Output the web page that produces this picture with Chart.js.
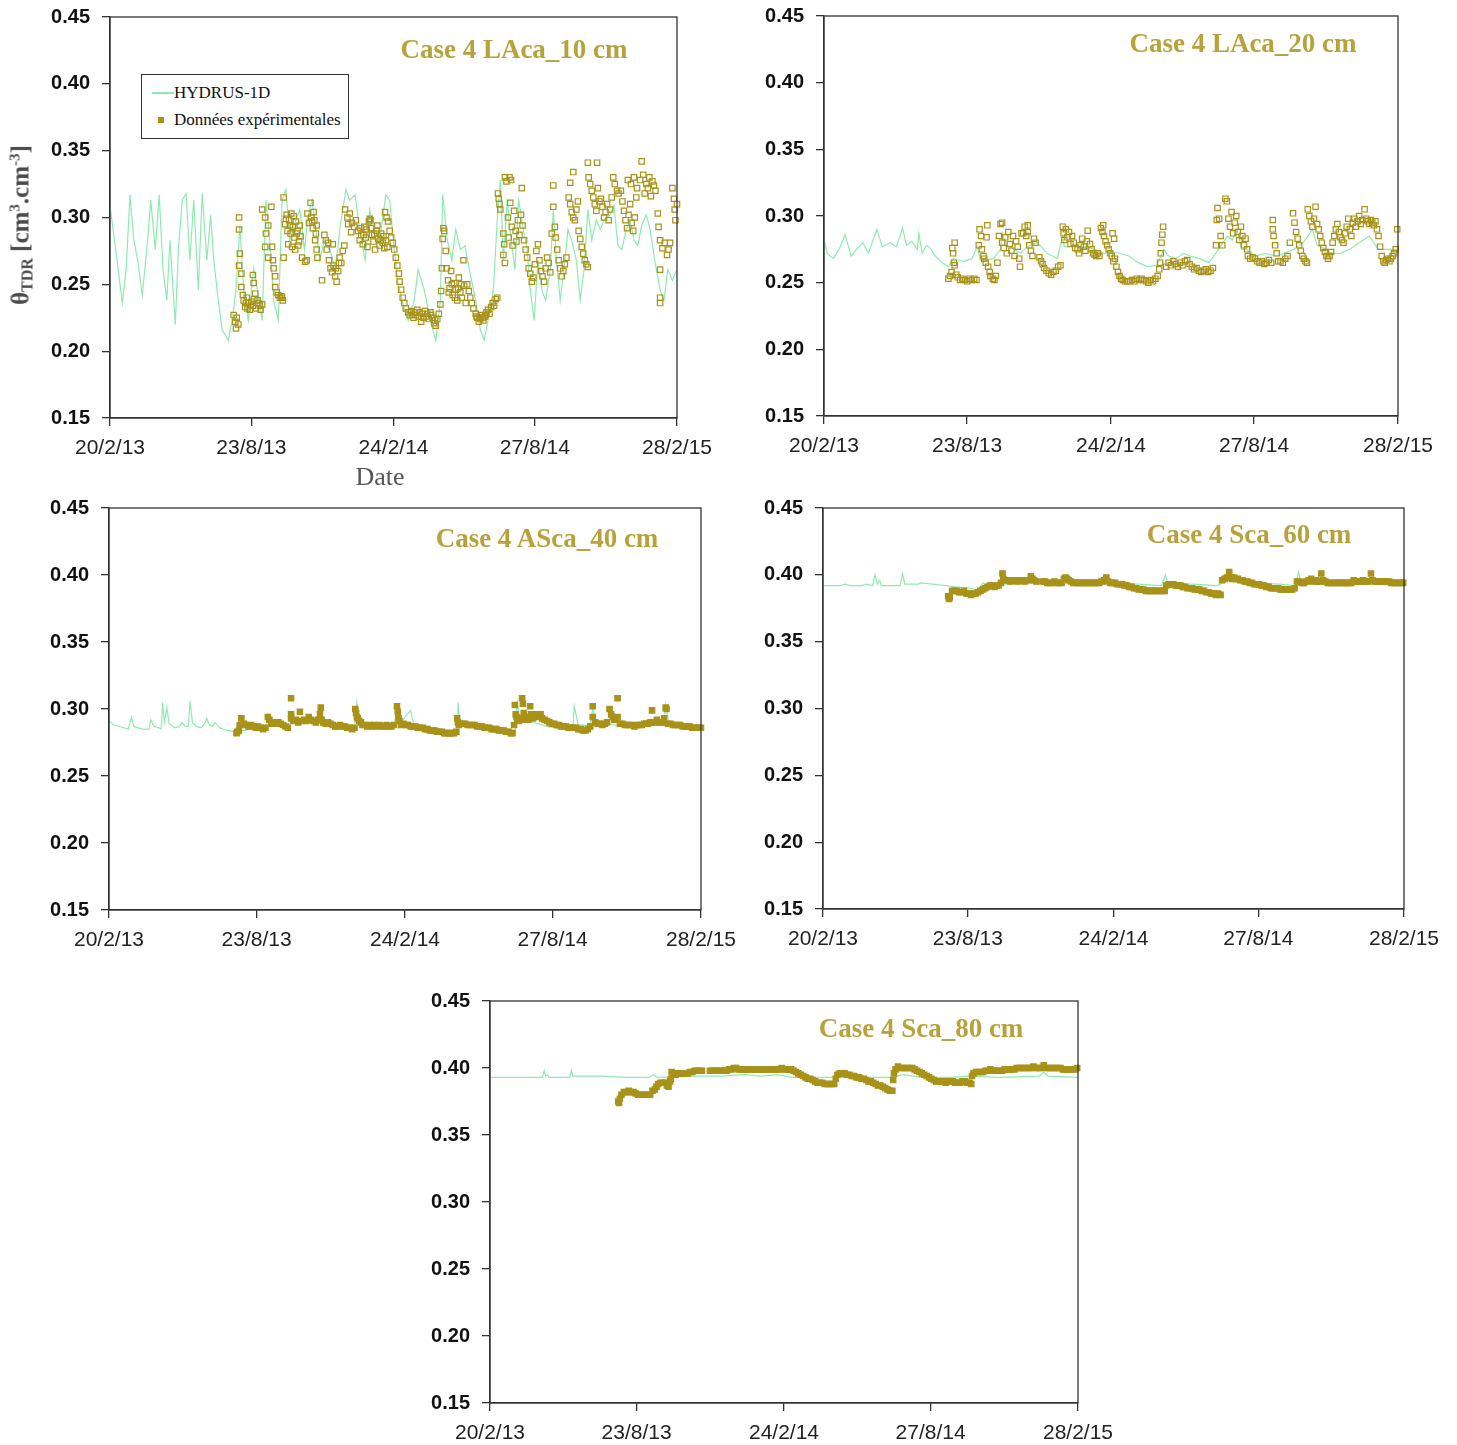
<!DOCTYPE html>
<html><head><meta charset="utf-8">
<script src="https://cdn.jsdelivr.net/npm/chart.js@4.4.0/dist/chart.umd.min.js"></script>
<style>
html,body{margin:0;padding:0;background:#fff}
body{width:1457px;height:1445px;position:relative;overflow:hidden}
canvas{position:absolute}
.ttl{position:absolute;font-family:"Liberation Serif","Times New Roman",serif;font-weight:bold;font-size:27px;line-height:27px;color:#B7A23C;white-space:nowrap;transform:translate(-50%,-50%)}
#ytitle{position:absolute;left:21px;top:225px;transform:translate(-50%,-50%) rotate(-90deg);font-family:"Liberation Serif","Times New Roman",serif;font-weight:bold;font-size:25px;line-height:28px;color:#4a4a4a;white-space:nowrap}
#ytitle sub{font-size:16px;vertical-align:-4px}
#ytitle sup{font-size:15px;vertical-align:9px}
#xtitle{position:absolute;left:380px;top:477px;transform:translate(-50%,-50%);font-family:"Liberation Serif","Times New Roman",serif;font-size:26px;line-height:26px;color:#555;white-space:nowrap}
#legend{position:absolute;left:141px;top:74px;width:208px;height:65px;box-sizing:border-box;border:1.5px solid #333;background:#fff;font-family:"Liberation Serif","Times New Roman",serif;font-size:17px;color:#111}
#legend .row{position:absolute;left:32px;line-height:20px;white-space:nowrap}
</style></head><body>
<canvas id="c1" width="737" height="503" style="left:0px;top:-8px"></canvas>
<canvas id="c2" width="737" height="504" style="left:720px;top:-9px"></canvas>
<canvas id="c3" width="760" height="482" style="left:0px;top:483px"></canvas>
<canvas id="c4" width="717" height="482" style="left:740px;top:483px"></canvas>
<canvas id="c5" width="740" height="469" style="left:400px;top:976px"></canvas>

<div class="ttl" style="left:514px;top:49px">Case 4 LAca_10 cm</div>
<div class="ttl" style="left:1243px;top:43px">Case 4 LAca_20 cm</div>
<div class="ttl" style="left:547px;top:538px">Case 4 ASca_40 cm</div>
<div class="ttl" style="left:1249px;top:534px">Case 4 Sca_60 cm</div>
<div class="ttl" style="left:921px;top:1028px">Case 4 Sca_80 cm</div>
<div id="ytitle">θ<sub>TDR</sub> [cm<sup>3</sup>.cm<sup>-3</sup>]</div>
<div id="xtitle">Date</div>
<div id="legend">
  <div style="position:absolute;left:10px;top:17px;width:22px;height:1.5px;background:#8EEBB0"></div>
  <div class="row" style="top:8px">HYDRUS-1D</div>
  <div style="position:absolute;left:16px;top:42px;width:6px;height:6px;background:#A89218"></div>
  <div class="row" style="top:35px">Données expérimentales</div>
</div>

<script>
// ---- axis definitions ----
const tickDays = [0, 184, 369, 553, 738];          // days since 20/2/2013
const tickLabels = ['20/2/13', '23/8/13', '24/2/14', '27/8/14', '28/2/15'];
const thetaTicks = [0.15, 0.20, 0.25, 0.30, 0.35, 0.40, 0.45];

// ---- Case 4 LAca_10 cm ----
const hydrus10 = [[0,.309],[4,.291],[10,.264],[16,.236],[21,.261],[26,.317],[31,.283],[36,.268],[42,.242],[49,.283],[53,.313],[59,.276],[64,.317],[69,.261],[74,.238],[78,.283],[85,.220],[89,.276],[94,.313],[99,.318],[104,.268],[109,.313],[115,.246],[120,.318],[126,.268],[131,.302],[135,.268],[141,.238],[146,.216],[154,.208],[159,.223],[164,.246],[169,.294],[174,.246],[180,.223],[187,.262],[193,.242],[198,.223],[203,.313],[208,.283],[213,.238],[219,.223],[224,.313],[229,.321],[234,.283],[242,.298],[247,.306],[253,.276],[258,.302],[263,.313],[268,.291],[273,.268],[279,.283],[286,.276],[294,.261],[299,.291],[307,.321],[312,.313],[319,.317],[325,.291],[332,.268],[338,.306],[344,.291],[351,.283],[359,.317],[364,.313],[370,.276],[375,.250],[380,.238],[388,.223],[396,.238],[401,.261],[409,.246],[417,.223],[424,.208],[430,.238],[433,.317],[439,.283],[445,.268],[450,.291],[456,.276],[462,.279],[469,.257],[476,.238],[482,.216],[487,.208],[492,.223],[499,.246],[504,.298],[508,.328],[512,.268],[517,.313],[522,.283],[527,.261],[532,.313],[538,.291],[543,.276],[547,.246],[552,.223],[557,.268],[562,.246],[567,.238],[573,.261],[577,.306],[581,.268],[586,.238],[591,.261],[596,.291],[601,.283],[607,.268],[612,.238],[617,.261],[622,.306],[627,.283],[633,.298],[638,.291],[643,.298],[651,.302],[656,.309],[661,.279],[666,.276],[672,.291],[677,.298],[682,.283],[687,.279],[692,.294],[698,.302],[703,.291],[709,.268],[716,.246],[721,.238],[726,.261],[732,.253],[738,.261]];
const obs10 = [[161,.227],[163,.222],[164,.217],[165,.225],[167,.220],[168,.300],[168,.291],[169,.273],[168,.264],[171,.258],[171,.248],[173,.242],[174,.238],[176,.233],[178,.240],[180,.236],[182,.231],[184,.237],[186,.234],[188,.239],[190,.232],[193,.236],[196,.231],[198,.235],[177,.236],[179,.232],[183,.234],[192,.238],[195,.234],[186,.257],[187,.251],[189,.243],[198,.306],[210,.308],[202,.300],[206,.294],[203,.288],[202,.278],[211,.278],[206,.270],[212,.268],[213,.262],[215,.256],[215,.248],[217,.244],[221,.240],[225,.238],[223,.241],[219,.242],[224,.240],[226,.315],[226,.270],[228,.295],[230,.302],[231,.290],[233,.298],[235,.288],[236,.303],[238,.293],[240,.285],[242,.297],[244,.290],[246,.282],[232,.280],[237,.278],[241,.276],[245,.279],[229,.299],[234,.294],[239,.301],[243,.288],[247,.294],[248,.286],[250,.270],[254,.267],[256,.268],[257,.303],[259,.296],[261,.311],[262,.300],[264,.292],[266,.298],[268,.288],[269,.294],[267,.283],[269,.276],[270,.270],[263,.297],[265,.304],[276,.253],[279,.287],[282,.276],[285,.268],[287,.262],[289,.259],[290,.280],[291,.264],[293,.256],[295,.252],[297,.260],[299,.270],[301,.266],[303,.275],[305,.279],[281,.283],[284,.281],[294,.262],[298,.266],[306,.306],[309,.300],[312,.303],[315,.296],[318,.293],[320,.298],[310,.295],[314,.289],[323,.290],[325,.283],[327,.287],[329,.280],[331,.293],[333,.285],[335,.278],[337,.297],[338,.299],[339,.298],[341,.287],[343,.282],[345,.276],[347,.290],[349,.284],[351,.279],[353,.288],[355,.281],[357,.277],[359,.283],[361,.278],[326,.292],[330,.287],[334,.291],[340,.292],[344,.288],[348,.294],[352,.283],[356,.286],[358,.304],[360,.300],[362,.297],[364,.290],[366,.285],[368,.281],[370,.276],[372,.270],[374,.264],[376,.258],[377,.252],[379,.246],[381,.240],[383,.236],[385,.232],[388,.229],[390,.227],[392,.230],[395,.225],[397,.229],[400,.231],[402,.226],[405,.222],[407,.228],[410,.230],[412,.226],[415,.224],[417,.229],[420,.225],[422,.221],[424,.219],[426,.224],[428,.228],[393,.227],[398,.227],[403,.229],[408,.225],[413,.228],[418,.227],[423,.223],[430,.235],[431,.245],[432,.262],[433,.284],[434,.292],[435,.290],[437,.275],[438,.262],[440,.253],[442,.247],[444,.260],[446,.242],[448,.251],[450,.246],[452,.238],[454,.255],[456,.244],[458,.240],[460,.268],[461,.249],[463,.236],[441,.244],[445,.250],[449,.240],[453,.247],[457,.250],[465,.250],[467,.245],[469,.240],[471,.236],[473,.232],[476,.228],[478,.225],[480,.222],[482,.224],[484,.227],[486,.223],[488,.226],[490,.229],[492,.231],[494,.228],[477,.226],[481,.225],[485,.225],[489,.227],[496,.233],[498,.236],[500,.234],[502,.239],[504,.240],[505,.318],[506,.314],[507,.310],[508,.306],[514,.330],[520,.330],[516,.327],[522,.328],[512,.288],[513,.280],[512,.272],[514,.266],[518,.300],[519,.285],[521,.311],[523,.293],[524,.279],[526,.305],[528,.290],[529,.282],[531,.298],[533,.287],[535,.302],[537,.294],[539,.283],[541,.276],[536,.322],[543,.270],[545,.262],[547,.258],[549,.252],[551,.255],[553,.265],[555,.275],[557,.280],[559,.268],[561,.260],[563,.256],[565,.252],[567,.262],[569,.270],[571,.266],[573,.259],[575,.288],[577,.324],[577,.308],[579,.293],[580,.285],[582,.276],[584,.268],[586,.262],[588,.256],[590,.260],[592,.265],[594,.270],[599,.326],[603,.334],[597,.315],[599,.310],[601,.304],[603,.300],[605,.298],[607,.306],[609,.312],[610,.290],[612,.284],[614,.278],[616,.273],[618,.268],[620,.265],[622,.263],[622,.341],[634,.341],[623,.330],[625,.325],[627,.320],[629,.315],[631,.310],[633,.305],[635,.322],[637,.312],[639,.314],[641,.308],[643,.300],[645,.304],[647,.310],[649,.298],[651,.306],[653,.315],[655,.330],[657,.325],[660,.320],[662,.318],[665,.320],[667,.312],[669,.305],[671,.298],[673,.292],[675,.302],[677,.310],[679,.296],[681,.290],[683,.300],[685,.315],[674,.328],[678,.325],[682,.330],[686,.322],[690,.328],[694,.332],[698,.325],[702,.330],[706,.327],[710,.320],[692,.342],[696,.318],[700,.322],[704,.316],[708,.324],[713,.303],[714,.293],[716,.283],[719,.277],[722,.281],[725,.272],[727,.276],[729,.281],[716,.261],[716,.240],[716,.236],[732,.322],[734,.314],[735,.306],[736,.298],[738,.310]];

// ---- Case 4 LAca_20 cm ----
const hydrus20 = [[0,.283],[4,.272],[12,.268],[21,.277],[27,.286],[35,.270],[42,.275],[50,.280],[57,.272],[68,.290],[75,.277],[85,.280],[93,.277],[101,.291],[106,.278],[113,.281],[120,.275],[122,.287],[126,.272],[132,.278],[138,.275],[143,.270],[152,.265],[160,.262],[166,.268],[171,.267],[180,.266],[190,.268],[197,.277],[201,.267],[218,.268],[227,.275],[229,.287],[235,.278],[253,.272],[261,.277],[274,.280],[287,.272],[300,.268],[307,.285],[309,.277],[322,.277],[339,.277],[347,.275],[360,.272],[373,.273],[392,.270],[404,.265],[416,.262],[428,.263],[437,.275],[443,.270],[453,.268],[462,.272],[471,.270],[483,.268],[495,.265],[507,.275],[513,.280],[519,.285],[525,.282],[531,.290],[537,.275],[543,.275],[555,.270],[567,.272],[580,.270],[592,.272],[604,.275],[616,.280],[628,.290],[634,.278],[646,.275],[652,.272],[664,.272],[676,.275],[688,.280],[701,.285],[713,.275],[725,.275],[738,.275]];
const obs20 = [[160,.253],[162,.255],[164,.258],[165,.276],[166,.272],[167,.265],[168,.280],[168,.263],[170,.256],[172,.254],[175,.252],[178,.253],[181,.252],[184,.251],[187,.253],[190,.252],[193,.253],[196,.252],[199,.278],[200,.290],[202,.285],[203,.275],[205,.270],[206,.268],[208,.265],[209,.284],[210,.293],[211,.262],[213,.258],[214,.255],[217,.253],[219,.252],[221,.255],[223,.265],[225,.285],[227,.294],[229,.295],[229,.280],[231,.276],[233,.284],[235,.272],[237,.288],[239,.279],[241,.274],[243,.285],[245,.270],[247,.281],[249,.277],[251,.268],[252,.262],[254,.287],[256,.287],[258,.292],[260,.285],[262,.293],[262,.288],[264,.278],[266,.274],[268,.270],[270,.283],[272,.280],[277,.269],[279,.266],[281,.264],[283,.261],[286,.259],[289,.257],[292,.256],[295,.258],[298,.259],[301,.262],[304,.263],[307,.292],[308,.287],[309,.282],[311,.290],[313,.284],[315,.288],[317,.279],[319,.285],[321,.280],[323,.276],[326,.275],[328,.272],[330,.278],[332,.283],[334,.277],[336,.274],[338,.281],[339,.289],[342,.279],[344,.275],[346,.272],[348,.271],[350,.270],[352,.272],[354,.270],[356,.291],[358,.288],[359,.293],[360,.285],[362,.281],[364,.278],[366,.275],[368,.272],[370,.270],[372,.266],[371,.287],[373,.283],[374,.268],[376,.262],[378,.258],[380,.255],[382,.253],[384,.252],[387,.251],[390,.251],[393,.251],[396,.252],[399,.251],[402,.253],[405,.252],[408,.253],[411,.252],[414,.251],[417,.250],[420,.252],[423,.251],[426,.253],[429,.255],[431,.260],[432,.265],[433,.272],[434,.280],[435,.286],[436,.292],[440,.262],[443,.265],[446,.263],[449,.266],[452,.264],[455,.262],[458,.265],[461,.263],[464,.266],[467,.267],[470,.264],[473,.262],[476,.260],[479,.261],[482,.259],[485,.258],[488,.259],[491,.260],[494,.258],[497,.259],[500,.261],[504,.278],[505,.297],[506,.306],[508,.298],[510,.285],[512,.278],[516,.313],[518,.311],[520,.298],[522,.292],[524,.303],[526,.287],[528,.295],[530,.300],[532,.288],[534,.282],[536,.292],[538,.285],[540,.278],[542,.283],[544,.275],[545,.270],[548,.268],[551,.269],[554,.268],[557,.266],[560,.265],[563,.266],[566,.264],[569,.265],[572,.267],[575,.265],[577,.297],[577,.290],[578,.285],[580,.278],[582,.272],[584,.266],[587,.266],[590,.265],[593,.268],[596,.270],[599,.280],[603,.302],[605,.295],[607,.288],[609,.283],[611,.278],[613,.274],[615,.270],[617,.268],[619,.266],[621,.265],[622,.305],[624,.300],[626,.296],[628,.292],[630,.298],[632,.307],[634,.294],[636,.290],[638,.285],[640,.280],[642,.276],[644,.273],[646,.270],[648,.268],[650,.270],[652,.273],[654,.280],[656,.285],[658,.290],[660,.294],[662,.288],[664,.284],[666,.282],[668,.280],[670,.287],[672,.292],[674,.298],[676,.290],[678,.285],[680,.295],[682,.298],[684,.292],[686,.296],[688,.300],[690,.294],[692,.297],[695,.305],[697,.298],[699,.296],[701,.294],[703,.297],[705,.295],[707,.293],[709,.296],[711,.290],[713,.285],[715,.277],[717,.270],[719,.266],[721,.265],[723,.267],[725,.268],[727,.266],[729,.268],[731,.270],[733,.272],[735,.275],[737,.290]];

// ---- Case 4 ASca_40 cm ----
const hydrus40 = [[0,.291],[6,.288],[18,.286],[24,.285],[28,.294],[31,.287],[41,.285],[50,.285],[52,.292],[56,.287],[62,.286],[65,.285],[67,.305],[69,.290],[72,.301],[75,.289],[82,.286],[88,.287],[91,.290],[95,.287],[99,.287],[101,.306],[104,.290],[109,.287],[115,.286],[119,.289],[122,.293],[125,.288],[129,.287],[132,.290],[135,.288],[138,.286],[147,.284],[159,.283],[165,.284],[170,.284],[180,.286],[190,.287],[195,.285],[198,.296],[202,.288],[215,.287],[225,.289],[230,.290],[240,.290],[250,.291],[260,.290],[270,.288],[280,.287],[290,.286],[300,.286],[306,.287],[309,.305],[312,.292],[320,.288],[330,.287],[340,.287],[355,.287],[360,.303],[364,.290],[376,.299],[380,.288],[390,.287],[400,.286],[410,.285],[420,.283],[430,.282],[434,.283],[435,.305],[437,.290],[445,.288],[460,.287],[470,.286],[480,.285],[490,.284],[500,.283],[506,.282],[509,.305],[512,.292],[521,.296],[525,.291],[535,.289],[545,.287],[555,.286],[565,.285],[578,.284],[580,.302],[585,.288],[600,.288],[603,.300],[607,.290],[620,.289],[640,.287],[660,.287],[680,.288],[692,.288],[694,.303],[698,.290],[710,.288],[725,.287],[738,.286]];
const obs40 = [[159,.282],[160,.283],[162,.284],[163,.288],[165,.293],[168,.289],[171,.288],[174,.287],[177,.288],[180,.287],[183,.286],[186,.287],[189,.286],[192,.285],[195,.286],[198,.294],[200,.292],[202,.289],[205,.290],[208,.289],[211,.290],[214,.289],[217,.288],[220,.287],[223,.286],[227,.308],[227,.296],[227,.293],[230,.291],[233,.292],[236,.290],[238,.298],[240,.291],[243,.292],[246,.291],[249,.294],[252,.292],[255,.291],[258,.290],[261,.292],[263,.296],[264,.301],[265,.292],[267,.290],[270,.289],[273,.290],[276,.289],[279,.288],[282,.287],[285,.287],[288,.288],[291,.287],[294,.287],[297,.286],[300,.286],[303,.285],[306,.286],[307,.300],[308,.297],[309,.294],[310,.293],[312,.291],[314,.290],[316,.288],[319,.288],[322,.287],[325,.288],[328,.287],[331,.288],[334,.287],[337,.288],[340,.287],[343,.287],[346,.288],[349,.287],[352,.287],[355,.288],[359,.302],[360,.298],[361,.293],[362,.291],[364,.288],[367,.289],[370,.288],[373,.288],[376,.287],[379,.287],[382,.287],[385,.286],[388,.286],[391,.286],[394,.285],[397,.285],[400,.284],[403,.284],[406,.284],[409,.283],[412,.283],[415,.283],[418,.282],[421,.282],[424,.282],[427,.282],[430,.282],[433,.283],[434,.293],[435,.290],[436,.288],[438,.289],[441,.289],[444,.289],[447,.288],[450,.288],[453,.288],[456,.288],[459,.287],[462,.287],[465,.287],[468,.286],[471,.286],[474,.286],[477,.285],[480,.285],[483,.285],[486,.284],[489,.284],[492,.284],[495,.283],[498,.283],[501,.282],[503,.282],[505,.288],[506,.303],[507,.296],[508,.294],[509,.292],[511,.291],[513,.293],[515,.308],[516,.304],[517,.297],[519,.292],[521,.294],[523,.292],[525,.302],[526,.296],[528,.293],[530,.294],[532,.296],[534,.295],[536,.294],[538,.296],[540,.293],[543,.292],[546,.291],[549,.290],[552,.289],[555,.289],[558,.288],[561,.288],[564,.287],[567,.287],[570,.287],[573,.286],[576,.286],[579,.286],[582,.286],[585,.285],[588,.285],[591,.284],[594,.284],[597,.285],[600,.287],[603,.302],[603,.294],[606,.290],[609,.289],[612,.289],[615,.288],[618,.289],[621,.290],[624,.300],[626,.296],[628,.294],[630,.292],[632,.293],[634,.294],[634,.308],[637,.289],[640,.289],[643,.288],[646,.288],[649,.288],[652,.288],[655,.287],[658,.288],[661,.288],[664,.288],[667,.289],[670,.289],[672,.289],[675,.290],[677,.299],[680,.290],[683,.292],[686,.290],[689,.290],[692,.293],[694,.301],[695,.300],[697,.289],[700,.289],[703,.288],[706,.288],[709,.288],[712,.288],[715,.287],[718,.287],[721,.287],[724,.287],[727,.286],[730,.286],[733,.286],[736,.286],[738,.286]];

// ---- Case 4 Sca_60 cm ----
const hydrus60 = [[0,.392],[22,.392],[28,.393],[34,.392],[51,.392],[54,.393],[63,.392],[66,.400],[69,.393],[72,.396],[74,.392],[98,.392],[101,.401],[104,.393],[121,.393],[124,.394],[156,.392],[168,.391],[185,.390],[197,.389],[203,.394],[208,.391],[226,.393],[260,.394],[300,.394],[350,.394],[400,.393],[430,.392],[435,.400],[438,.393],[470,.393],[500,.392],[505,.393],[507,.396],[540,.394],[580,.393],[600,.392],[604,.402],[607,.394],[650,.393],[700,.393],[738,.392]];
const obs60 = [[159,.384],[160,.382],[161,.383],[164,.388],[167,.388],[170,.388],[173,.387],[176,.387],[179,.388],[182,.386],[185,.386],[188,.385],[191,.386],[194,.386],[197,.387],[200,.388],[203,.389],[206,.390],[209,.391],[212,.392],[215,.392],[218,.391],[220,.392],[223,.392],[226,.394],[228,.401],[229,.397],[232,.396],[235,.396],[238,.395],[241,.396],[244,.396],[247,.395],[250,.396],[253,.396],[256,.395],[261,.396],[264,.399],[266,.397],[268,.396],[271,.395],[279,.395],[282,.395],[285,.394],[288,.394],[291,.394],[294,.395],[297,.394],[300,.394],[303,.394],[306,.397],[308,.398],[310,.397],[312,.396],[315,.395],[318,.394],[321,.394],[324,.394],[327,.394],[330,.394],[333,.394],[336,.394],[339,.394],[342,.394],[345,.394],[348,.394],[351,.394],[354,.395],[357,.396],[360,.398],[362,.395],[365,.394],[368,.394],[371,.394],[374,.393],[377,.393],[380,.393],[383,.392],[386,.392],[389,.391],[392,.391],[395,.390],[398,.390],[401,.389],[404,.389],[407,.389],[410,.388],[413,.388],[416,.388],[419,.388],[422,.388],[425,.388],[428,.388],[431,.388],[434,.388],[436,.392],[439,.393],[442,.393],[445,.393],[448,.392],[451,.392],[454,.392],[457,.391],[460,.391],[463,.390],[466,.390],[469,.390],[472,.389],[475,.389],[478,.389],[481,.388],[484,.388],[487,.387],[490,.387],[493,.386],[496,.386],[499,.385],[502,.386],[505,.385],[507,.396],[510,.397],[513,.398],[516,.402],[518,.398],[520,.397],[522,.398],[524,.397],[527,.397],[530,.396],[533,.396],[536,.395],[539,.395],[542,.394],[545,.394],[548,.393],[551,.393],[554,.393],[557,.392],[560,.392],[563,.391],[566,.391],[569,.390],[572,.390],[575,.390],[578,.390],[581,.389],[584,.389],[587,.389],[590,.389],[593,.389],[596,.389],[599,.390],[602,.395],[605,.395],[608,.394],[611,.394],[614,.395],[617,.396],[620,.397],[622,.395],[626,.396],[628,.395],[631,.395],[633,.401],[635,.396],[638,.395],[641,.394],[644,.394],[647,.394],[650,.394],[653,.394],[656,.394],[659,.394],[662,.394],[665,.394],[668,.394],[671,.394],[674,.396],[677,.395],[680,.395],[683,.395],[686,.396],[689,.395],[692,.395],[696,.401],[698,.396],[701,.395],[704,.395],[707,.395],[710,.395],[713,.395],[716,.395],[719,.395],[722,.394],[725,.394],[728,.394],[731,.394],[734,.394],[737,.394]];

// ---- Case 4 Sca_80 cm ----
const hydrus80 = [[0,.393],[30,.393],[50,.393],[66,.393],[68,.398],[70,.394],[72,.395],[74,.393],[100,.393],[102,.398],[104,.394],[140,.394],[170,.393],[200,.393],[205,.395],[210,.393],[260,.394],[290,.394],[320,.395],[340,.394],[360,.395],[380,.393],[420,.393],[440,.393],[460,.393],[500,.393],[520,.395],[540,.393],[580,.393],[600,.394],[640,.393],[690,.394],[695,.397],[700,.394],[738,.393]];
const obs80 = [[161,.375],[162,.374],[163,.377],[165,.380],[168,.382],[171,.382],[174,.383],[177,.382],[180,.382],[183,.381],[186,.380],[189,.380],[192,.380],[195,.380],[198,.380],[201,.380],[204,.383],[207,.384],[209,.386],[211,.388],[214,.389],[217,.389],[220,.389],[222,.387],[224,.386],[226,.390],[227,.392],[228,.397],[230,.395],[233,.395],[236,.396],[239,.396],[242,.396],[245,.396],[248,.396],[251,.397],[254,.397],[257,.398],[260,.398],[263,.398],[266,.398],[276,.398],[279,.398],[282,.398],[285,.398],[288,.398],[291,.398],[294,.398],[297,.398],[300,.399],[303,.399],[306,.400],[309,.400],[312,.399],[315,.399],[318,.399],[321,.399],[324,.399],[327,.399],[330,.399],[333,.399],[336,.399],[339,.399],[342,.399],[345,.399],[348,.399],[351,.399],[354,.399],[357,.399],[360,.399],[363,.399],[366,.400],[369,.399],[372,.399],[375,.399],[378,.399],[381,.398],[384,.397],[387,.396],[390,.395],[393,.394],[396,.393],[399,.392],[402,.392],[405,.391],[408,.390],[411,.389],[414,.389],[417,.389],[420,.388],[423,.388],[426,.388],[429,.388],[432,.388],[434,.392],[436,.395],[439,.396],[442,.396],[445,.396],[448,.395],[451,.395],[454,.394],[457,.394],[460,.393],[463,.393],[466,.392],[469,.392],[472,.391],[475,.390],[478,.390],[481,.389],[484,.388],[487,.387],[490,.387],[493,.386],[496,.385],[499,.384],[502,.383],[505,.383],[506,.391],[507,.396],[509,.399],[512,.401],[515,.400],[518,.400],[521,.400],[524,.400],[527,.400],[530,.400],[533,.399],[536,.398],[539,.397],[542,.396],[545,.395],[548,.394],[551,.393],[554,.392],[557,.391],[560,.390],[563,.390],[566,.390],[569,.390],[572,.389],[575,.390],[578,.390],[581,.390],[584,.389],[587,.389],[590,.389],[593,.390],[596,.390],[599,.389],[602,.389],[604,.388],[605,.394],[607,.396],[610,.397],[613,.397],[616,.397],[619,.397],[622,.398],[625,.398],[628,.399],[631,.398],[634,.398],[637,.398],[640,.398],[643,.398],[646,.399],[649,.399],[652,.399],[655,.399],[658,.399],[661,.400],[664,.400],[667,.400],[670,.400],[673,.400],[676,.400],[679,.400],[682,.401],[685,.400],[688,.400],[691,.400],[695,.402],[698,.400],[701,.400],[704,.400],[707,.400],[710,.400],[713,.400],[716,.400],[719,.399],[722,.399],[725,.399],[728,.399],[731,.399],[734,.399],[737,.400]];

// ---- styling ----
const OLIVE = '#A89218';
const GREEN = '#8EEBB0';
const AXIS = '#333';
const SANS = '"Liberation Sans", Arial, sans-serif';

const framePlugin = {
  id: 'frame',
  afterDraw(chart) {
    const { ctx, chartArea: a } = chart;
    ctx.save();
    ctx.strokeStyle = AXIS;
    ctx.lineWidth = 1.3;
    ctx.strokeRect(a.left, a.top, a.right - a.left, a.bottom - a.top);
    ctx.restore();
  }
};

function makeChart(id, box, area, sim, obs, filled) {
  const el = document.getElementById(id);
  return new Chart(el, {
    type: 'scatter',
    data: {
      datasets: [
        { label: 'Données expérimentales', data: obs, pointStyle: 'rect', pointRadius: 3.8,
          borderWidth: 1.2, borderColor: OLIVE, backgroundColor: filled ? OLIVE : 'rgba(255,255,255,0)',
          showLine: false, order: 0, clip: false },
        { label: 'HYDRUS-1D', type: 'line', data: sim, borderColor: GREEN, borderWidth: 1.2,
          pointRadius: 0, tension: 0, fill: false, order: 1 }
      ]
    },
    options: {
      responsive: false, animation: false, devicePixelRatio: 1,
      events: [],
      layout: { padding: { top: area.t - box.y, right: box.x + box.w - area.r, left: 0, bottom: 0 } },
      plugins: { legend: { display: false }, tooltip: { enabled: false }, title: { display: false } },
      scales: {
        x: {
          type: 'linear', min: 0, max: 738,
          afterFit(s) { s.height = box.y + box.h - area.b; },
          afterBuildTicks(s) { s.ticks = tickDays.map(v => ({ value: v })); },
          ticks: { callback: v => { const i = tickDays.indexOf(v); return i >= 0 ? tickLabels[i] : ''; },
                   font: { family: SANS, size: 21 }, color: '#222', maxRotation: 0, minRotation: 0, autoSkip: false, padding: 10 },
          grid: { drawOnChartArea: false, drawTicks: true, tickLength: 8, color: AXIS, lineWidth: 1.3 },
          border: { display: true, color: AXIS, width: 1.3 }
        },
        y: {
          type: 'linear', min: 0.15, max: 0.45,
          afterFit(s) { s.width = area.l - box.x; },
          afterBuildTicks(s) { s.ticks = thetaTicks.map(v => ({ value: v })); },
          ticks: { callback: v => Number(v).toFixed(2), font: { family: SANS, size: 20, weight: 'bold' },
                   color: '#111', padding: 12 },
          grid: { drawOnChartArea: false, drawTicks: true, tickLength: 8, color: AXIS, lineWidth: 1.3 },
          border: { display: true, color: AXIS, width: 1.3 }
        }
      }
    },
    plugins: [framePlugin]
  });
}

makeChart('c1', { x: 0, y: -8, w: 737, h: 503 },    { l: 110, t: 17, r: 677, b: 418 },  hydrus10, obs10, false);
makeChart('c2', { x: 720, y: -9, w: 737, h: 504 },  { l: 824, t: 16, r: 1398, b: 416 }, hydrus20, obs20, false);
makeChart('c3', { x: 0, y: 483, w: 760, h: 482 },   { l: 109, t: 508, r: 701, b: 910 }, hydrus40, obs40, true);
makeChart('c4', { x: 740, y: 483, w: 717, h: 482 }, { l: 823, t: 508, r: 1404, b: 909 }, hydrus60, obs60, true);
makeChart('c5', { x: 400, y: 976, w: 740, h: 469 }, { l: 490, t: 1001, r: 1078, b: 1403 }, hydrus80, obs80, true);
</script>
</body></html>
